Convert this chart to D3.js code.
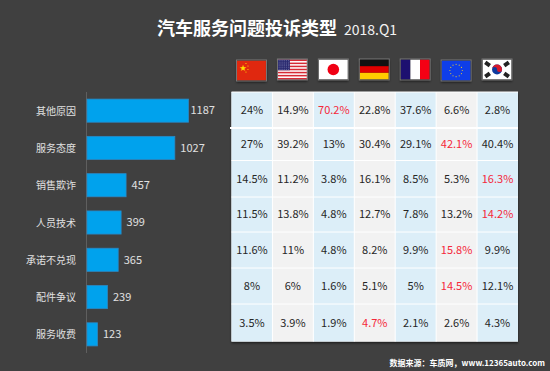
<!DOCTYPE html>
<html><head><meta charset="utf-8">
<script src="https://cdn.jsdelivr.net/npm/d3@7/dist/d3.min.js"></script>
<style>html,body{margin:0;padding:0;background:#404040}svg{display:block}
text{font-family:"Noto Sans CJK SC","Noto Sans",sans-serif}</style></head>
<body><svg id="c" width="550" height="371"></svg>
<script>
const categories=["其他原因","服务态度","销售欺诈","人员技术","承诺不兑现","配件争议","服务收费"];
const counts=[1187,1027,457,399,365,239,123];
const countries=["cn","us","jp","de","fr","eu","kr"];
const cn=["24%","27%","14.5%","11.5%","11.6%","8%","3.5%"];
const us=["14.9%","39.2%","11.2%","13.8%","11%","6%","3.9%"];
const jp=["70.2%","13%","3.8%","4.8%","4.8%","1.6%","1.9%"];
const de=["22.8%","30.4%","16.1%","12.7%","8.2%","5.1%","4.7%"];
const fr=["37.6%","29.1%","8.5%","7.8%","9.9%","5%","2.1%"];
const eu=["6.6%","42.1%","5.3%","13.2%","15.8%","14.5%","2.6%"];
const kr=["2.8%","40.4%","16.3%","14.2%","9.9%","12.1%","4.3%"];
const highlights=[["jp",0],["eu",1],["kr",2],["kr",3],["eu",4],["eu",5],["de",6]];
const columns=[cn,us,jp,de,fr,eu,kr];

const svg=d3.select("#c");
const defs=svg.append("defs");
const sh=defs.append("filter").attr("id","sh").attr("x","-20%").attr("y","-20%").attr("width","140%").attr("height","150%");
sh.append("feDropShadow").attr("dx",0).attr("dy",1.5).attr("stdDeviation",1.2).attr("flood-color","#000").attr("flood-opacity",.6);

svg.append("text").attr("x",157).attr("y",35).attr("fill","#fff").attr("font-size",18).attr("font-weight",700).text("汽车服务问题投诉类型");
svg.append("text").attr("x",344).attr("y",35).attr("fill","#f2f2f2").attr("font-size",14).text("2018.Q1");

// bars
const y=d3.scaleBand().domain(categories).range([92,353]).paddingInner(.38).paddingOuter(.19);
const x=d3.scaleLinear().domain([0,1187]).range([87,188.5]);
svg.append("line").attr("x1",86.5).attr("x2",86.5).attr("y1",92).attr("y2",353).attr("stroke","#5f5f5f");
const row=svg.selectAll(".r").data(categories).join("g").attr("class","r");
row.append("rect").attr("x",x(0)).attr("y",d=>y(d)).attr("height",y.bandwidth())
  .attr("width",(d,i)=>x(counts[i])-x(0)).attr("fill","#00a2ed").attr("stroke","#2a88c4").attr("stroke-width",.8);
row.append("text").attr("x",76).attr("y",d=>y(d)+y.bandwidth()/2+.5).attr("dy",".35em").attr("text-anchor","end")
  .attr("fill","#e0e0e0").attr("font-size",10).text(d=>d);
row.append("text").attr("x",(d,i)=>x(counts[i])+(i===0?2:5.5)).attr("y",d=>y(d)+y.bandwidth()/2).attr("dy",".35em")
  .attr("fill","#e0e0e0").attr("font-size",11).text((d,i)=>counts[i]);

// table
const cx=d3.scaleBand().domain(countries).range([231.5,518]);
const rowEdges=[92,128,160.5,197,232,268,304,341.5];
const t=svg.append("g");
t.append("rect").attr("x",231.5).attr("y",92).attr("width",286.5).attr("height",249.5).attr("fill","#f2f2f2").attr("filter","url(#sh)");
countries.forEach((c,ci)=>{
  categories.forEach((cat,ri)=>{
    const hi=highlights.some(h=>h[0]===c&&h[1]===ri);
    t.append("rect").attr("x",cx(c)).attr("y",rowEdges[ri]).attr("width",cx.bandwidth()).attr("height",rowEdges[ri+1]-rowEdges[ri])
      .attr("fill",ci%2===0?"#dceef8":"#f2f2f2");
    t.append("text").attr("x",cx(c)+cx.bandwidth()/2).attr("y",(rowEdges[ri]+rowEdges[ri+1])/2).attr("dy",".35em")
      .attr("text-anchor","middle").attr("font-size",11).attr("fill",hi?"#f5283a":"#262626").text(columns[ci][ri]);
  });
});
countries.slice(1).forEach(c=>t.append("line").attr("x1",cx(c)).attr("x2",cx(c)).attr("y1",92).attr("y2",341.5).attr("stroke","#fff").attr("stroke-width",1));
rowEdges.forEach((e,i)=>t.append("line").attr("x1",i===1?230:231.5).attr("x2",518).attr("y1",e).attr("y2",e).attr("stroke","#fff").attr("stroke-width",i===1?2:1).attr("stroke-opacity",i===7?0:1));

// flags
const W=29,H=20;
const flags={
 cn(g){g.append("rect").attr("width",W).attr("height",H).attr("fill","#e0280f");
   g.append("text").attr("x",2.5).attr("y",9).attr("font-size",7).attr("fill","#ffde00").text("★");
   [[9,3],[11,5.5],[11,9],[9,11.5]].forEach(p=>g.append("circle").attr("cx",p[0]).attr("cy",p[1]).attr("r",.6).attr("fill","#ffde00"));},
 us(g){g.append("rect").attr("width",W).attr("height",H).attr("fill","#fff");
   d3.range(0,13,2).forEach(i=>g.append("rect").attr("y",i*H/13).attr("width",W).attr("height",H/13).attr("fill","#d62a35"));
   g.append("rect").attr("width",12).attr("height",H*7/13).attr("fill","#2a2a70");
   d3.range(5).forEach(r=>d3.range(6).forEach(c=>g.append("circle").attr("cx",1.2+c*1.9).attr("cy",1.3+r*2.1).attr("r",.4).attr("fill","#cfd0e8")));},
 jp(g){g.append("rect").attr("width",W).attr("height",H).attr("fill","#fff");
   g.append("circle").attr("cx",W/2).attr("cy",H/2).attr("r",5.8).attr("fill","#f00014");},
 de(g){["#111","#e00000","#ffcc00"].forEach((c,i)=>g.append("rect").attr("y",i*H/3).attr("width",W).attr("height",H/3).attr("fill",c));},
 fr(g){["#1d1070","#fff","#f50014"].forEach((c,i)=>g.append("rect").attr("x",i*W/3).attr("width",W/3).attr("height",H).attr("fill",c));},
 eu(g){g.append("rect").attr("width",W).attr("height",H).attr("fill","#0f3ee8");
   d3.range(12).forEach(i=>g.append("circle").attr("cx",W/2+6.2*Math.cos(i*Math.PI/6)).attr("cy",H/2+6.2*Math.sin(i*Math.PI/6)).attr("r",.6).attr("fill","#d8c040"));},
 kr(g){g.append("rect").attr("width",W).attr("height",H).attr("fill","#fff");
   g.append("circle").attr("cx",W/2).attr("cy",H/2).attr("r",5).attr("fill","#0e3a9e");
   g.append("path").attr("d","M9.5 10 A5 5 0 0 1 19.5 10 A2.5 2.5 0 0 1 14.5 10 A2.5 2.5 0 0 0 9.5 10Z").attr("fill","#d8192c");
   [[5,4.5,35],[24,4.5,-35],[5,15.5,-35],[24,15.5,35]].forEach(p=>g.append("rect").attr("x",-2.8).attr("y",-2).attr("width",5.6).attr("height",4).attr("fill","#222").attr("transform",`translate(${p[0]},${p[1]}) rotate(${p[2]})`));}
};
countries.forEach((c,i)=>{
  const g=svg.append("g").attr("transform",`translate(${cx(c)+cx.bandwidth()/2-W/2-.5},${c==="cn"||c==="eu"?60.5:59.5})`);
  g.append("rect").attr("x",-.5).attr("y",-.5).attr("width",W+1).attr("height",H+1).attr("fill","#000").attr("filter","url(#sh)");
  flags[c](g);
  g.append("rect").attr("x",-.5).attr("y",-.5).attr("width",W+1).attr("height",H+1).attr("fill","none").attr("stroke","#7a7a7a").attr("stroke-width",1);
});

svg.append("text").attr("x",545).attr("y",366).attr("text-anchor","end").attr("fill","#fff").attr("font-size",8).attr("font-weight",700).text("数据来源：车质网，www.12365auto.com");
</script></body></html>
